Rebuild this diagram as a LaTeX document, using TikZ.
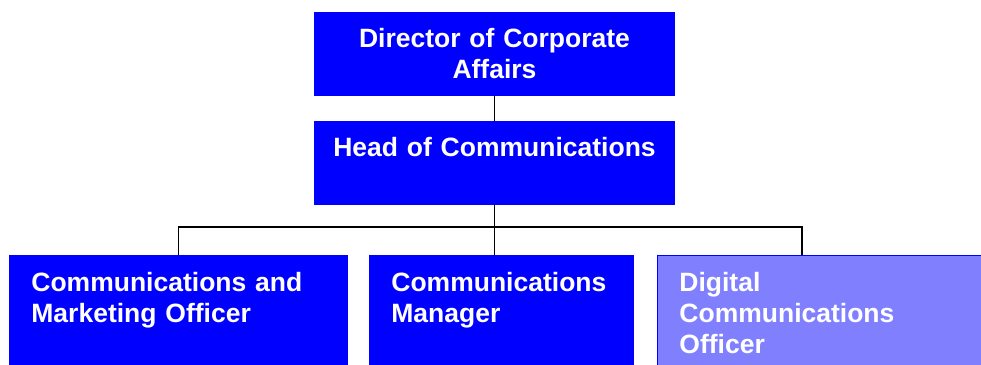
\documentclass[tikz,border=0pt]{standalone}
\usepackage{fontspec}
\setmainfont{Liberation Sans}
\usetikzlibrary{calc}
\definecolor{postblue}{RGB}{0,0,255}
\definecolor{vacantblue}{RGB}{128,128,255}

\begin{document}
\begin{tikzpicture}[
  font=\bfseries\fontsize{18.85pt}{22pt}\selectfont,
  post/.style={fill=postblue,draw=postblue,line width=0.6pt,text=white,
    inner ysep=0.4cm,text height=0.48cm},
  senior/.style={post,anchor=north,align=center,inner xsep=0.2cm,
    text width=8.6cm,text depth=0.795cm},
  staff/.style={post,anchor=north west,align=left,inner xsep=0.55cm,
    inner ysep=0.43cm,text depth=3cm},
  link/.style={black,line width=1pt}]

%% ── page frame: lower row runs off the bottom and right edges ───────────────
\path[use as bounding box] (0,0) rectangle (24.525,9.125);
\clip (0,0) rectangle (24.525,9.125);

%% ── senior posts ────────────────────────────────────────────────────────────
\node[senior] (director) at (12.3625,8.825) {Director of Corporate\\Affairs};
\node[senior] (head) at (12.3625,6.1) {Head of Communications};

%% ── team ─────────────────────────────────────────────────────────────────────
\node[staff,text width=7.35cm] (marketing) at (0.225,2.75)
  {Communications and\\Marketing Officer};
\node[staff,text width=5.5cm] (manager) at (9.225,2.75)
  {Communications\\Manager};
\node[staff,text width=8cm,fill=vacantblue] (digital) at (16.425,2.75)
  {Digital\\Communications\\Officer};

%% ── reporting lines ─────────────────────────────────────────────────────────
\draw[link] (director.south) -- (head.north);
\draw[link] (head.south) -- (head.south |- manager.north);
\draw[link] (marketing.north) -- ++(0,0.7)
  -| ($(digital.north west)+(3.625,0)$);

\end{tikzpicture}
\end{document}
